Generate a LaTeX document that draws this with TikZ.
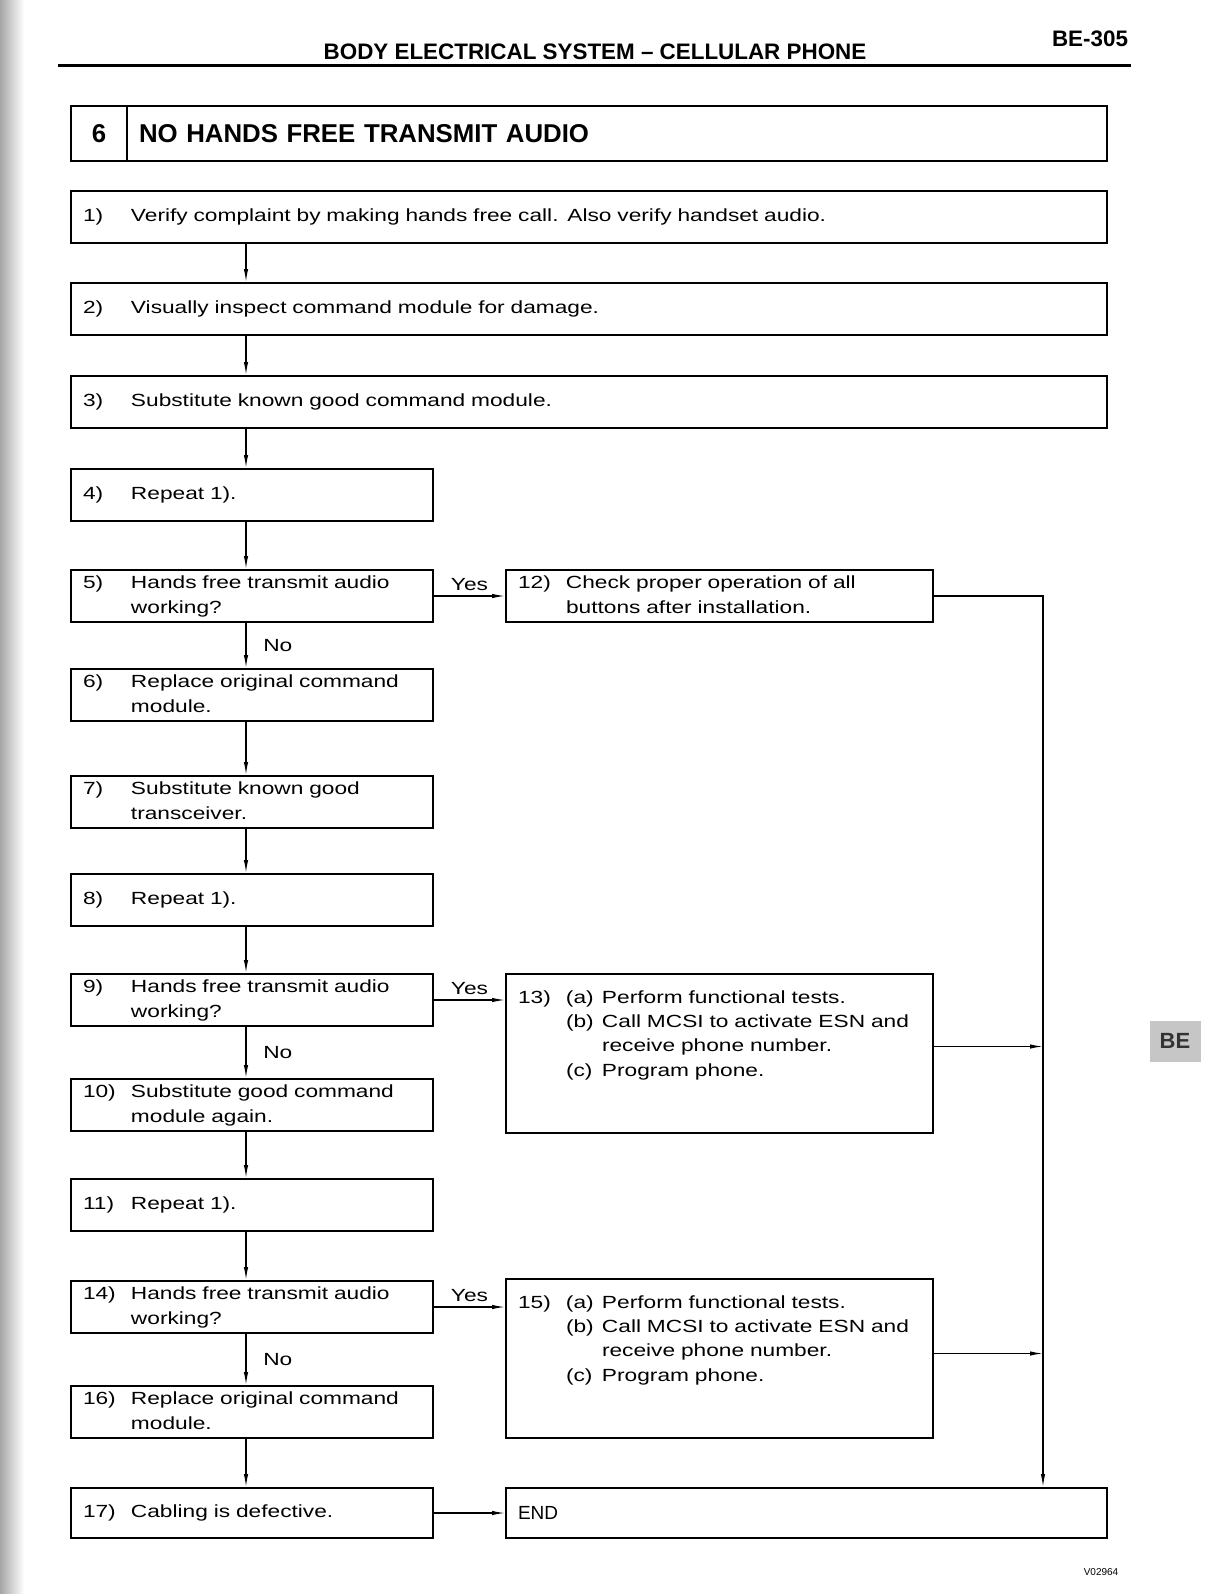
\documentclass[tikz,border=0pt]{standalone}
\usepackage{fontspec}
\setmainfont{Liberation Sans}[FakeStretch=1.29]
\newfontfamily\headfont{Liberation Sans}
\usetikzlibrary{arrows.meta,positioning,calc}

\newcommand{\stepline}[2]{\begin{tabular}{@{}p{24pt}@{}l@{}}#1&#2\end{tabular}}
\newcommand{\substeps}[2]{\parbox[c][67.5pt][t]{\linewidth}{%
  \begin{tabular}[t]{@{}p{24pt}@{}p{18pt}@{}l@{}}#1&#2\end{tabular}}}

\begin{document}
\begin{tikzpicture}[x=0.5pt,y=-0.5pt,
  box/.style={draw,line width=1pt,anchor=north west,align=left,inner xsep=6pt,inner ysep=0pt,
    font=\fontsize{8.8}{12.2}\selectfont},
  lbox/.style={box,text width=169pt,minimum height=26pt},
  wbox/.style={box,text width=506pt,minimum height=26pt},
  rbox/.style={box,text width=201.5pt,minimum height=26pt},
  tbox/.style={box,text width=201.5pt,inner ysep=6pt},
  flow/.style={line width=0.6pt,-{Latex[length=6.5pt,width=2.2pt]}},
  tag/.style={font=\fontsize{8.8}{10}\selectfont}]
  \useasboundingbox (0,0) rectangle (1210,1594);
  \shade[left color=gray!70,right color=white] (0,0) rectangle (24,1594);

  % page header
  \node[font=\headfont\bfseries\fontsize{11.2}{13}\selectfont] (head) at (595,52) {BODY ELECTRICAL SYSTEM – CELLULAR PHONE};
  \node[font=\headfont\bfseries\fontsize{11.2}{13}\selectfont] (page) at (1090,39) {BE-305};
  \draw[line width=1.5pt] (58,66) -- (1131,66);

  % title
  \node[draw,line width=1pt,anchor=north west,minimum width=28pt,minimum height=27.5pt,inner sep=0pt,
    font=\headfont\bfseries\fontsize{12.9}{14}\selectfont] (tnum) at (70,105) {6};
  \node[draw,line width=1pt,anchor=north west,text width=478pt,align=left,minimum height=27.5pt,
    inner xsep=6pt,inner ysep=0pt,font=\headfont\bfseries\fontsize{12.9}{14}\selectfont] (ttl) at (126,105)
    {NO HANDS FREE TRANSMIT AUDIO};

  % steps
  \node[wbox] (b1) at (70,190) {\stepline{1)}{Verify complaint by making hands free call. Also verify handset audio.}};
  \node[wbox] (b2) at (70,282) {\stepline{2)}{Visually inspect command module for damage.}};
  \node[wbox] (b3) at (70,375) {\stepline{3)}{Substitute known good command module.}};
  \node[lbox] (b4) at (70,468) {\stepline{4)}{Repeat 1).}};
  \node[lbox] (b5) at (70,569) {\stepline{5)}{Hands free transmit audio\\ & working?}};
  \node[rbox] (b12) at (505,569) {\stepline{12)}{Check proper operation of all\\ & buttons after installation.}};
  \node[lbox] (b6) at (70,668) {\stepline{6)}{Replace original command\\ & module.}};
  \node[lbox] (b7) at (70,775) {\stepline{7)}{Substitute known good\\ & transceiver.}};
  \node[lbox] (b8) at (70,873) {\stepline{8)}{Repeat 1).}};
  \node[lbox] (b9) at (70,973) {\stepline{9)}{Hands free transmit audio\\ & working?}};
  \node[tbox] (b13) at (505,973) {\substeps{13)}{(a) & Perform functional tests.\\
    & (b) & Call MCSI to activate ESN and\\ & & receive phone number.\\ & (c) & Program phone.}};
  \node[lbox] (b10) at (70,1078) {\stepline{10)}{Substitute good command\\ & module again.}};
  \node[lbox] (b11) at (70,1178) {\stepline{11)}{Repeat 1).}};
  \node[lbox] (b14) at (70,1280) {\stepline{14)}{Hands free transmit audio\\ & working?}};
  \node[tbox] (b15) at (505,1278) {\substeps{15)}{(a) & Perform functional tests.\\
    & (b) & Call MCSI to activate ESN and\\ & & receive phone number.\\ & (c) & Program phone.}};
  \node[lbox] (b16) at (70,1385) {\stepline{16)}{Replace original command\\ & module.}};
  \node[lbox,minimum height=25pt] (b17) at (70,1487) {\stepline{17)}{Cabling is defective.}};
  \node[box,text width=288.5pt,minimum height=25pt,font=\headfont\fontsize{9.5}{11}\selectfont] (end) at (505,1487) {END};

  % connectors
  \coordinate (spine) at (246,0);
  \coordinate (rail) at (1043,0);
  \foreach \src/\dst in {b1/b2,b2/b3,b3/b4,b4/b5,b6/b7,b7/b8,b8/b9,b10/b11,b11/b14,b16/b17}
    \draw[flow] (\src.south -| spine) -- (\dst.north -| spine);
  \draw[flow] (b5.south -| spine) -- node[tag,right=5pt] (no5) {No} (b6.north -| spine);
  \draw[flow] (b9.south -| spine) -- node[tag,right=5pt] (no9) {No} (b10.north -| spine);
  \draw[flow] (b14.south -| spine) -- node[tag,right=5pt] (no14) {No} (b16.north -| spine);
  \draw[flow] (b5.east) -- node[tag,above=-1pt] (yes5) {Yes} (b12.west);
  \draw[flow] (b9.east) -- node[tag,above=-1pt] (yes9) {Yes} (b9.east -| b13.west);
  \draw[flow] (b14.east) -- node[tag,above=-1pt] (yes14) {Yes} (b14.east -| b15.west);
  \draw[flow] (b17.east) -- (end.west);
  \draw[flow] (b12.east) -| (end.north -| rail);
  \coordinate (o13) at ([yshift=3.5pt]b13.east);
  \coordinate (o15) at ([yshift=2.5pt]b15.east);
  \draw[flow] (o13) -- (o13 -| rail);
  \draw[flow] (o15) -- (o15 -| rail);

  % side tab and drawing code
  \node[fill=gray!45,minimum width=25.5pt,minimum height=20.5pt,inner sep=0pt,text=black!80,
    font=\headfont\bfseries\fontsize{11}{12}\selectfont] (tab) at (1175,1041) {BE};
  \node[font=\headfont\fontsize{5}{6}\selectfont] (code) at (1101,1572) {V02964};
\end{tikzpicture}
\end{document}
